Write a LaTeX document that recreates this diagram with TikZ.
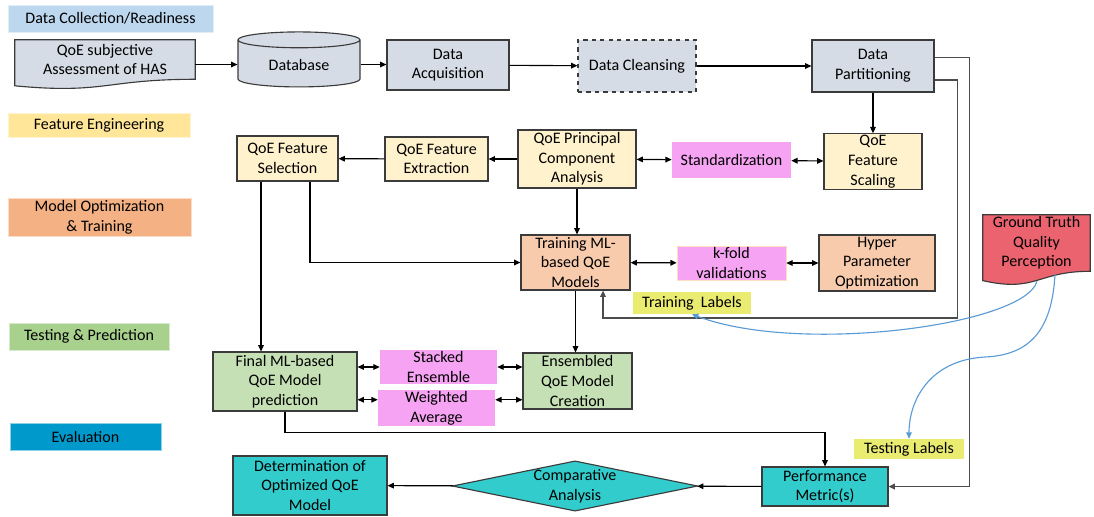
\documentclass[tikz,border=0pt]{standalone}
\usepackage{fontspec}
\setmainfont{Carlito}
\usetikzlibrary{shapes.geometric, arrows.meta, calc, backgrounds}

\definecolor{boxline}{HTML}{3B3B3B}
\definecolor{greybox}{HTML}{D6DCE5}
\definecolor{yellowbox}{HTML}{FFF2CC}
\definecolor{orangebox}{HTML}{F8CBAD}
\definecolor{greenbox}{HTML}{C5E0B4}
\definecolor{tealbox}{HTML}{33CCCC}
\definecolor{pinkbox}{HTML}{F5A3F2}
\definecolor{labelyellow}{HTML}{EAEC72}
\definecolor{truthred}{HTML}{EB636F}
\definecolor{stageblue}{HTML}{BDD7EE}
\definecolor{stageyellow}{HTML}{FFE699}
\definecolor{stageorange}{HTML}{F4B183}
\definecolor{stagegreen}{HTML}{A9D18E}
\definecolor{stageeval}{HTML}{0099CC}
\definecolor{curveblue}{HTML}{5B9BD5}

% document shape with a wavy bottom, drawn behind a named node
\newcommand{\docpath}[2]{%
  \begin{scope}[on background layer]
    \draw[box, fill=#2] (#1.north west) -- (#1.north east) -- (#1.south east)
      .. controls (#1.south) and ($(#1.north)!1.38!(#1.south)$)
      .. ($(#1.north west)!1.165!(#1.south west)$) -- cycle;
  \end{scope}}

\begin{document}
\begin{tikzpicture}[x=0.025cm, y=-0.025cm, >={Triangle[length=4.5pt,width=4pt]},
    every node/.style={align=center, font=\fontsize{11.4}{14}\selectfont, inner sep=1pt},
    wh/.style 2 args={minimum width=#1*0.025cm, minimum height=#2*0.025cm},
    box/.style={draw=boxline, line width=0.8pt},
    stage/.style={fill=#1, draw=#1!45!white, line width=0.4pt},
    link/.style={draw=black, line width=0.8pt},
    gline/.style={draw=black!70, line width=1.1pt},
    bline/.style={draw=curveblue, line width=0.8pt}]
    \useasboundingbox (0,0) rectangle (1094,516);
    % Stages
    \node[stage=stageblue, wh={205}{27}] (dc) at (110.5,18.5) {Data Collection/Readiness};
    \node[stage=stageyellow, wh={182}{24}] (fe) at (99,125) {Feature Engineering};
    \node[stage=stageorange, wh={183}{38}] (mo) at (99.5,217) {Model Optimization\\ \& Training};
    \node[stage=stagegreen, wh={160}{27}] (tp) at (89,336.5) {Testing \& Prediction};
    \node[stage=stageeval, wh={151}{27}] (ev) at (85.5,436.5) {Evaluation};
    % Nodes
    \node[wh={180}{39}] (qoe) at (105,59.5) {QoE subjective\\Assessment of HAS};
    \docpath{qoe}{greybox}
    \node[box, fill=greybox, shape=cylinder, shape border rotate=90, aspect=0.25, wh={122}{55}] (db) at (299,64.5) {\raisebox{-3pt}{Database}};
    \node[box, fill=greybox, wh={122}{50}] (acq) at (448,65) {Data\\Acquisition};
    \node[box, fill=greybox, dashed, wh={118}{52}] (cln) at (637,66) {Data Cleansing};
    \node[box, fill=greybox, wh={122}{52}] (prt) at (873,66) {Data\\Partitioning};
    \node[box, fill=yellowbox, wh={98}{53}] (scl) at (873,161.5) {QoE\\Feature\\Scaling};
    \node[fill=pinkbox, wh={119}{36}] (std) at (731.5,160) {Standardization};
    \node[box, fill=yellowbox, wh={118}{58}] (pca) at (577,159) {QoE Principal\\Component\\Analysis};
    \node[box, fill=yellowbox, wh={103}{44}] (ext) at (436.5,159) {QoE Feature\\Extraction};
    \node[box, fill=yellowbox, wh={101}{45}] (sel) at (287.5,158.5) {QoE Feature\\Selection};
    \node[box, fill=orangebox, wh={109}{55}] (trn) at (575.5,262.5) {Training ML-\\based QoE\\Models};
    \node[fill=pinkbox, draw=orange!25, line width=0.4pt, wh={109}{34}] (kfd) at (731.5,263) {k-fold\\validations};
    \node[box, fill=orangebox, wh={116}{56}] (hyp) at (877,263) {Hyper\\Parameter\\Optimization};
    \node[fill=labelyellow, wh={118}{22}] (trl) at (692,303) {Training\ \ Labels};
    \node[wh={107}{56}] (gt) at (1036.5,243) {Ground Truth\\Quality\\Perception};
    \docpath{gt}{truthred}
    \node[box, fill=greenbox, wh={144}{59}] (fin) at (285,381.5) {Final ML-based\\QoE Model\\prediction};
    \node[fill=pinkbox, wh={117}{34}] (stk) at (438.5,367) {Stacked\\Ensemble};
    \node[fill=pinkbox, wh={117}{36}] (wav) at (436.5,408) {Weighted\\Average};
    \node[box, fill=greenbox, wh={109}{56}] (ens) at (577.5,381) {Ensembled\\QoE Model\\Creation};
    \node[box, fill=tealbox, wh={154}{59}] (det) at (310,485.5) {Determination of\\Optimized QoE\\Model};
    \node[box, fill=tealbox, shape=diamond, aspect=4.88, inner sep=0pt, wh={244}{50}] (cmp) at (575,486) {Comparative\\Analysis};
    \node[box, fill=tealbox, wh={126}{39}] (prf) at (825,486.5) {Performance\\Metric(s)};
    \node[fill=labelyellow, wh={110}{20}] (tsl) at (909,449) {Testing Labels};
    % Edges
    \draw[link, ->] (qoe.east |- db.west) -- (db.west);
    \draw[link, ->] (db.east) -- (acq.west |- db.east);
    \draw[link, ->] (acq) -- (cln);
    \draw[link, ->] (cln) -- (prt);
    \draw[link, ->] (prt) -- (scl);
    \draw[link, <->] (std) -- (scl);
    \draw[link, <->] (pca) -- (std);
    \draw[link, ->] (pca) -- (ext);
    \draw[link, ->] (ext) -- (sel);
    \draw[link, ->] (pca.south) -- (pca.south |- trn.north);
    \coordinate (selright) at ($(sel.south)+(22.5,0)$);
    \coordinate (selleft) at ($(sel.south)+(-26.5,0)$);
    \draw[link, ->] (selright) |- (trn.west);
    \draw[link, ->] (selleft) -- (selleft |- fin.north);
    \draw[link, <->] (trn) -- (kfd);
    \draw[link, <->] (kfd) -- (hyp);
    \draw[link, ->] (trn.south) -- (trn.south |- ens.north);
    \draw[link, <->] (fin.east |- stk.west) -- (stk.west);
    \draw[link, <->] (stk.east) -- (ens.west |- stk.east);
    \draw[link, <->] (fin.east |- wav.172) -- (wav.172);
    \draw[link, <->] (wav.8) -- (ens.west |- wav.8);
    \draw[link, ->] (fin.south) -- ++(0,21) -| (prf.north);
    \draw[link, ->] (prf) -- (cmp);
    \draw[link, ->] (cmp) -- (det);
    \coordinate (trnin) at ($(trn.south)+(27.5,0)$);
    \draw[gline, ->] (prt.-13) -- ++(23,0) -- ++(0,238) -| (trnin);
    \draw[gline, ->] (prt.8) -- ++(35,0) |- (prf.east);
    % Labels
    \draw[bline, ->] ($(gt.south)+(0.5,10)$) .. controls (1025,325) and (800,355) .. (trl.south);
    \draw[bline, ->] ($(gt.south)+(18.5,3)$) .. controls (1052,330) and (1030,355) .. (985,357)
      .. controls (930,360) and (909,400) .. (tsl.north);
\end{tikzpicture}
\end{document}
